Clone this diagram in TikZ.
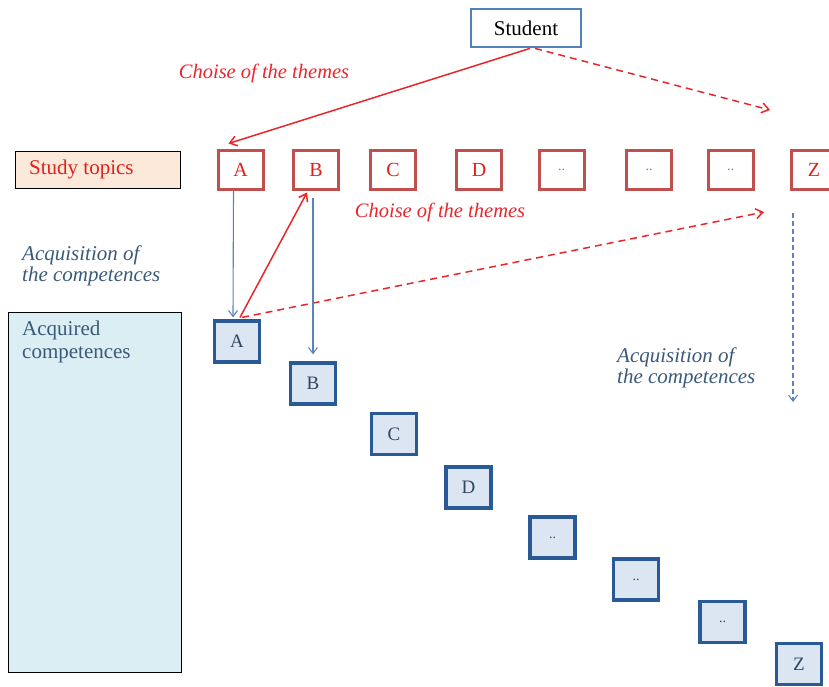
\documentclass[tikz,border=0pt]{standalone}
\usepackage{fontspec}
\setmainfont{Liberation Serif}
\usetikzlibrary{arrows.meta}
\definecolor{topicline}{HTML}{C0504D}
\definecolor{topictext}{HTML}{E0201B}
\definecolor{choicered}{HTML}{E8262B}
\definecolor{compline}{HTML}{2A5A95}
\definecolor{compfill}{HTML}{DCE6F2}
\definecolor{acqfill}{HTML}{DAEEF3}
\definecolor{studyfill}{HTML}{FDE9D9}
\definecolor{studentline}{HTML}{4F81BD}
\definecolor{acqtext}{HTML}{3B5A7A}
\definecolor{flowblue}{HTML}{5B84B8}
\begin{document}
\begin{tikzpicture}[x=1pt,y=-1pt,
  topicbox/.style={draw=topicline,line width=3pt,fill=white,minimum width=45pt,minimum height=39pt,
    inner sep=0pt,text=topictext,font=\fontsize{20}{20}\selectfont},
  compbox/.style={draw=compline,line width=3.2pt,fill=compfill,minimum width=45pt,minimum height=41pt,
    inner sep=0pt,text=acqtext!80!black,font=\fontsize{19}{19}\selectfont},
  choicelabel/.style={text=choicered,font=\fontsize{20.5}{20.5}\selectfont\itshape},
  acqlabel/.style={text=acqtext,font=\fontsize{21}{21}\selectfont\itshape,align=left},
  choicearrow/.style={draw=choicered,line width=1.5pt,-{Straight Barb[length=7pt,width=10pt]}},
  flowarrow/.style={draw=flowblue,line width=1.1pt,-{Straight Barb[length=6pt,width=9pt]}}]
\useasboundingbox (0,0) rectangle (829,686);

% learner at the top
\node[draw=studentline,line width=2.8pt,fill=white,minimum width=110pt,minimum height=38pt,
  font=\fontsize{21}{21}\selectfont] (student) at (526,28) {Student};

% row of study topics
\node[draw=black,line width=0.9pt,fill=studyfill,minimum width=165pt,minimum height=37pt] (topics) at (97.5,169.5) {};
\node[anchor=west,text=topictext,font=\fontsize{21}{21}\selectfont,inner sep=0pt] (topicstitle)
  at (29,169.5) {Study topics};
\node[topicbox] (tA) at (240.5,169.5) {A};
\node[topicbox] (tB) at (316,169.5) {B};
\node[topicbox] (tC) at (393,169.5) {C};
\node[topicbox] (tD) at (479,169.5) {D};
\node[topicbox,text=gray,font=\fontsize{14}{14}\selectfont] (t1) at (561.5,169.5) {..};
\node[topicbox,text=gray,font=\fontsize{14}{14}\selectfont] (t2) at (649,169.5) {..};
\node[topicbox,text=gray,font=\fontsize{14}{14}\selectfont] (t3) at (730.5,169.5) {..};
\node[topicbox] (tZ) at (814,169.5) {Z};

% acquired competences column
\node[draw=black,line width=0.9pt,fill=acqfill,minimum width=173pt,minimum height=360pt] (acq) at (94.5,492) {};
\node[anchor=north west,text=acqtext,align=left,font=\fontsize{21}{23}\selectfont,inner sep=0pt] (acqtitle)
  at (22,321) {Acquired\\competences};

% staircase of acquired competences
\node[compbox] (cA) at (237,341.5) {A};
\node[compbox] (cB) at (313,383.5) {B};
\node[compbox] (cC) at (394,434) {C};
\node[compbox] (cD) at (468.5,487.5) {D};
\node[compbox,font=\fontsize{14}{14}\selectfont] (c1) at (552.5,537.5) {..};
\node[compbox,font=\fontsize{14}{14}\selectfont] (c2) at (636,579.5) {..};
\node[compbox,font=\fontsize{14}{14}\selectfont] (c3) at (722.5,622) {..};
\node[compbox] (cZ) at (799,664) {Z};

% labels
\node[choicelabel] (choice1) at (264,73) {Choise of the themes};
\node[choicelabel] (choice2) at (440,212) {Choise of the themes};
\node[acqlabel,anchor=west,inner sep=0pt] (acq1) at (22,266) {Acquisition of\\the competences};
\node[acqlabel,anchor=west,inner sep=0pt] (acq2) at (617,368) {Acquisition of\\the competences};

% free ends of the dashed arrows
\coordinate (endtop) at (770,110);
\coordinate (endmid) at (764,212);
\coordinate (zdown) at (793,213);
\coordinate (zend) at (793,402);

% choosing themes (shifts are in canvas points, positive = upward)
\draw[choicearrow] ([xshift=4pt]student.south) -- ([xshift=-12pt,yshift=5pt]tA.north);
\draw[choicearrow,dashed,dash pattern=on 7pt off 5pt] ([xshift=9pt]student.south) -- (endtop);
\draw[choicearrow] ([xshift=3pt,yshift=2pt]cA.north) -- ([xshift=-9pt,yshift=-2pt]tB.south);
\draw[choicearrow,dashed,dash pattern=on 7pt off 5pt] ([xshift=5pt,yshift=2pt]cA.north) -- (endmid);

% acquiring competences
\draw[flowarrow] ([xshift=-7pt]tA.south) -- ([xshift=-4pt,yshift=2pt]cA.north);
\draw[flowarrow] ([xshift=-3pt,yshift=-7pt]tB.south) -- ([yshift=7pt]cB.north);
\draw[flowarrow,dashed,dash pattern=on 5pt off 3pt] (zdown) -- (zend);
\end{tikzpicture}
\end{document}
